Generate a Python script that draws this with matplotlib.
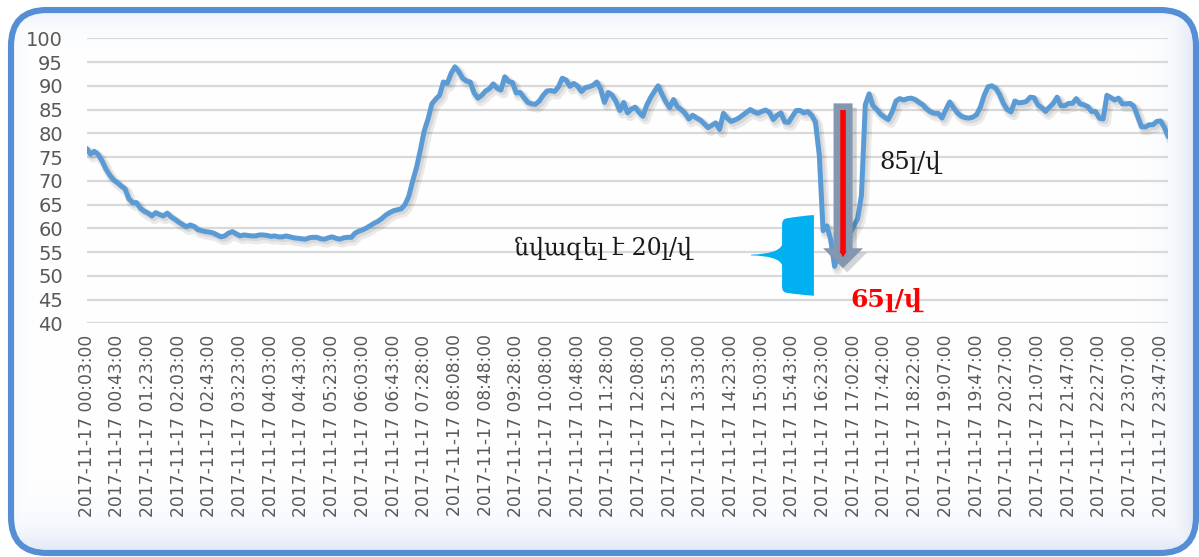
import numpy as np
import matplotlib
matplotlib.use("Agg")
import matplotlib.pyplot as plt
import matplotlib.patches as mpatches
import matplotlib.patheffects as pe
from matplotlib.path import Path

# Flow readings (l/s), one every ~5 minutes over 2017-11-17
flow = [
    76.8, 75.6, 76.2, 75.5, 74.2, 72.5, 71.2, 70.2, 69.6, 68.9,
    68.3, 66.2, 65.4, 65.4, 64.2, 63.6, 63.2, 62.6, 63.3, 62.9,
    62.6, 63.2, 62.4, 61.9, 61.3, 60.8, 60.3, 60.7, 60.4, 59.7,
    59.5, 59.3, 59.2, 59.0, 58.6, 58.2, 58.4, 59.0, 59.3, 58.8,
    58.4, 58.6, 58.5, 58.4, 58.4, 58.6, 58.6, 58.5, 58.3, 58.4,
    58.2, 58.2, 58.4, 58.2, 58.0, 57.9, 57.8, 57.7, 58.0, 58.1,
    58.1, 57.8, 57.7, 58.0, 58.2, 57.9, 57.7, 58.0, 58.1, 58.1,
    59.0, 59.4, 59.7, 60.1, 60.6, 61.1, 61.5, 62.1, 62.8, 63.3,
    63.7, 63.9, 64.1, 65.0, 66.8, 70.0, 72.8, 76.5, 80.5, 83.0,
    86.2, 87.2, 88.0, 90.8, 90.5, 92.6, 94.0, 93.0, 91.6, 91.0,
    90.8, 88.5, 87.4, 88.0, 88.9, 89.4, 90.4, 89.5, 89.1, 91.9,
    90.9, 90.7, 88.5, 88.6, 87.5, 86.5, 86.2, 86.1, 86.8, 88.0,
    88.9, 89.0, 88.8, 89.8, 91.6, 91.2, 89.9, 90.5, 89.9, 88.8,
    89.6, 89.8, 90.1, 90.8, 89.3, 86.5, 88.6, 88.0, 86.7, 84.8,
    86.5, 84.3, 85.1, 85.5, 84.4, 83.6, 85.9, 87.5, 88.8, 90.0,
    88.2, 86.6, 85.4, 87.1, 85.6, 85.0, 84.2, 83.0, 83.8, 83.2,
    82.8, 82.0, 81.2, 81.7, 82.2, 80.8, 84.2, 83.2, 82.5, 82.8,
    83.2, 83.8, 84.4, 85.0, 84.5, 84.2, 84.6, 84.9, 84.4, 82.9,
    83.8, 84.3, 82.4, 82.3, 83.6, 84.8, 84.8, 84.3, 84.6, 83.8,
    82.4, 75.5, 59.5, 60.5, 57.5, 52.0, 55.0, 56.5, 58.0, 59.0,
    60.5, 62.0, 67.0, 86.0, 88.3, 85.8, 85.0, 84.0, 83.4, 82.9,
    84.5, 86.8, 87.3, 87.0, 87.3, 87.4, 87.1, 86.5, 86.0, 85.1,
    84.5, 84.2, 84.2, 83.2, 85.0, 86.6, 85.4, 84.3, 83.6, 83.3,
    83.2, 83.4, 83.9, 85.5, 88.0, 89.8, 90.0, 89.5, 88.2, 86.3,
    85.0, 84.5, 86.8, 86.4, 86.5, 86.7, 87.6, 87.5, 86.0, 85.4,
    84.6, 85.5, 86.3, 87.6, 85.8, 85.8, 86.3, 86.3, 87.3, 86.2,
    86.0, 85.6, 84.6, 84.6, 83.2, 83.0, 88.0, 87.5, 87.0, 87.4,
    86.2, 86.2, 86.3, 85.7, 83.6, 81.4, 81.3, 81.8, 81.8, 82.5,
    82.6, 81.2, 79.3,
]

# labelled timestamps, one every 8 readings
tick_times = [
    "00:03", "00:43", "01:23", "02:03", "02:43", "03:23", "04:03", "04:43",
    "05:23", "06:03", "06:43", "07:28", "08:08", "08:48", "09:28", "10:08",
    "10:48", "11:28", "12:08", "12:53", "13:33", "14:23", "15:03", "15:43",
    "16:23", "17:02", "17:42", "18:22", "19:07", "19:47", "20:27", "21:07",
    "21:47", "22:27", "23:07", "23:47",
]
tick_labels = ["2017-11-17 " + t + ":00" for t in tick_times]
tick_step = 8

drop_text = "նվազել է 20լ/վ"
before_text = "85լ/վ"
after_text = "65լ/վ"

W, H = 1199, 557
fig = plt.figure(figsize=(W / 100, H / 100), dpi=100)

# frame with a faint blue haze along its edges
bg = fig.add_axes([0, 0, 1, 1])
bg.set_xlim(0, W)
bg.set_ylim(H, 0)
bg.axis("off")
yy, xx = np.mgrid[0:H, 0:W]
haze = np.maximum.reduce([
    0.45 * np.exp(-np.clip(yy - 12, 0, None) / 14.0),
    0.75 * np.exp(-np.clip(550 - yy, 0, None) / 22.0),
    0.70 * np.exp(-np.clip(1192 - xx, 0, None) / 18.0),
    0.25 * np.exp(-np.clip(xx - 14, 0, None) / 10.0),
])
tint = np.array([0.84, 0.88, 0.95])
rgb = 1 - haze[..., None] * (1 - tint)
frame = mpatches.FancyBboxPatch((11, 10), 1185, 543,
                                boxstyle="round,pad=0,rounding_size=36",
                                fc="none", ec="#558ED5", lw=4.4, zorder=3)
bg.add_patch(frame)
img = bg.imshow(rgb, extent=(0, W, H, 0), zorder=1)
img.set_clip_path(frame)

ax = fig.add_axes([86.7 / W, 1 - 323.3 / H, (1168.3 - 86.7) / W, (323.3 - 38.3) / H])
ax.patch.set_alpha(0)

x = np.arange(len(flow))
ax.plot(x, flow, color="#5B9BD5", lw=3.6, solid_joinstyle="round",
        solid_capstyle="round", zorder=3,
        path_effects=[pe.SimpleLineShadow(offset=(2, -2.5), shadow_color="k",
                                          alpha=0.08, linewidth=7),
                      pe.SimpleLineShadow(offset=(1.5, -1.5), shadow_color="k",
                                          alpha=0.08, linewidth=4.5),
                      pe.Normal()])

ax.set_xlim(0, len(flow) - 1)
ax.set_ylim(40, 100)
ax.set_yticks(range(40, 101, 5))
ax.set_xticks(x[::tick_step])
ax.set_xticklabels(tick_labels, rotation=90)
ax.grid(axis="y", color="#D9D9D9", lw=1.6)
ax.set_axisbelow(True)
for s in ax.spines.values():
    s.set_visible(False)
ax.tick_params(axis="both", length=0, labelcolor="#595959")
ax.tick_params(axis="y", labelsize=14, pad=17)
ax.tick_params(axis="x", labelsize=12.3, pad=8)

# callout marking the drop
callout = Path(
    [(173.2, 54.45), (180.3, 54.6), (181.3, 56.5), (181.3, 60.8),
     (181.3, 62.0), (182.6, 62.1), (186.0, 62.6), (189.6, 62.8),
     (189.6, 45.8), (186.0, 46.0), (182.6, 46.4), (181.3, 46.5),
     (181.3, 47.7), (181.3, 52.3), (180.3, 54.2), (173.2, 54.3), (0, 0)],
    [Path.MOVETO, Path.CURVE3, Path.CURVE3, Path.LINETO,
     Path.CURVE3, Path.CURVE3, Path.CURVE3, Path.CURVE3,
     Path.LINETO, Path.CURVE3, Path.CURVE3, Path.CURVE3,
     Path.CURVE3, Path.LINETO, Path.CURVE3, Path.CURVE3, Path.CLOSEPOLY])
ax.add_patch(mpatches.PathPatch(callout, fc="#00B0F0", ec="none", zorder=4))

# grey block arrow with the red drop line inside
ax.add_patch(mpatches.FancyArrow(197.2, 86.3, 0, -34.7, width=4.96, head_width=10.4,
                                 head_length=4.2, length_includes_head=True,
                                 fc="#8497B0", ec="none", zorder=5,
                                 path_effects=[pe.SimplePatchShadow(offset=(3, -3), alpha=0.2),
                                               pe.Normal()]))
ax.add_patch(mpatches.FancyArrow(197.2, 84.9, 0, -31.0, width=1.45, head_width=1.9,
                                 head_length=1.3, length_includes_head=True,
                                 fc="#FF0000", ec="none", zorder=6))

arm = ["DejaVu Serif", "DejaVu Sans"]
ax.text(134.5, 55.8, drop_text, fontsize=17, ha="center", va="center",
        family=arm, color="#1A1A1A", zorder=7)
ax.text(214.7, 73.8, before_text, fontsize=17.5, ha="center", va="center",
        family=arm, color="#1A1A1A", zorder=7)
ax.text(208.5, 44.9, after_text, fontsize=18, ha="center", va="center",
        family=arm, color="#FF0000", fontweight="bold", zorder=7)

fig.savefig("out.png", dpi=100)
